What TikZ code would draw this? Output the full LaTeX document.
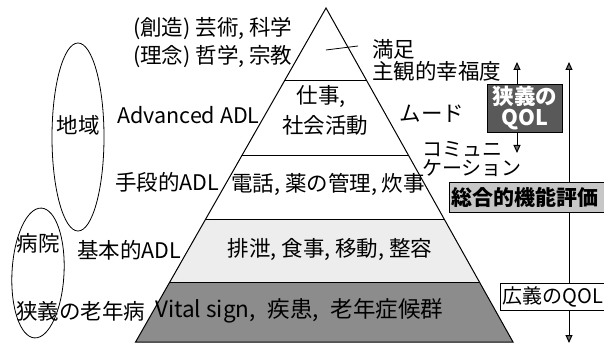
\documentclass[tikz,border=0pt]{standalone}
\usepackage{fontspec}
\setmainfont{Noto Sans CJK JP}
\usetikzlibrary{arrows.meta,shapes.geometric}
\begin{document}
\begin{tikzpicture}[x=1pt,y=-1pt,
  txt/.style={inner sep=0pt,font=\fontsize{21.5}{23}\selectfont},
  smalltxt/.style={inner sep=0pt,font=\fontsize{20}{22}\selectfont},
  edge/.style={line width=1pt},
  arr/.style={line width=1pt,-{Triangle[length=8pt,width=7pt,fill=black!55]}},
  arr2/.style={line width=1pt,{Triangle[length=8pt,width=7pt,fill=black!55]}-{Triangle[length=8pt,width=7pt,fill=black!55]}},
  oval/.style={draw,ellipse,line width=0.8pt,inner sep=0pt}]
\useasboundingbox (0,0) rectangle (604,344);
% pyramid corners
\coordinate (apex) at (326,8);
\coordinate (L1) at (284.4,81);  \coordinate (R1) at (366.9,81);
\coordinate (L2) at (241.6,156); \coordinate (R2) at (408.9,156);
\coordinate (L3) at (205.2,220); \coordinate (R3) at (444.7,220);
\coordinate (L4) at (169.8,282); \coordinate (R4) at (479.4,282);
\coordinate (L5) at (135.6,342); \coordinate (R5) at (513.0,342);
% layer fills
\fill[black!7] (L3) -- (R3) -- (R4) -- (L4) -- cycle;
\fill[black!45] (L4) -- (R4) -- (R5) -- (L5) -- cycle;
% outline
\draw[edge] (L5) -- (apex) -- (R5) -- cycle;
\draw[edge] (L1) -- (R1);
\draw[edge] (L2) -- (R2);
\draw[edge] (L3) -- (R3);
\draw[edge] (L4) -- (R4);
% leader line
\coordinate (ld1) at (326,50);
\coordinate (ld2) at (358,46);
\draw[line width=0.8pt] (ld1) -- (ld2);
% left texts
\node[txt,anchor=west] (sozo) at (133,29) {(創造) 芸術, 科学};
\node[txt,anchor=west] (rinen) at (133,57) {(理念) 哲学, 宗教};
\node[txt,anchor=west] (advadl) at (117,115) {Advanced ADL};
\node[txt,anchor=west] (shudan) at (115,182) {手段的ADL};
\node[txt,anchor=west] (kihon) at (77,250) {基本的ADL};
\node[txt,anchor=west] (kyogi) at (16,311) {狭義の老年病};
% ovals
\node[oval,minimum width=52,minimum height=188] (chiiki) at (78,137) {};
\node[txt] (chiikit) at (78,125) {地域};
\node[oval,minimum width=52,minimum height=130,rotate=-3] (byoin) at (38,273) {};
\node[txt] (byoint) at (38,243) {病院};
% pyramid texts
\node[txt,anchor=west] (manzoku) at (372,49) {満足};
\node[txt,anchor=west] (shukan) at (372,71) {主観的幸福度};
\node[txt] (shigoto) at (321,97) {仕事,};
\node[txt] (shakai) at (325,125) {社会活動};
\node[txt] (mood) at (432,114) {ムード};
\node[smalltxt,anchor=west] (komyu1) at (422,149) {コミュニ};
\node[smalltxt,anchor=west] (komyu2) at (422,168) {ケーション};
\node[txt] (denwa) at (328,184) {電話, 薬の管理, 炊事};
\node[txt] (haisetsu) at (330,250) {排泄, 食事, 移動, 整容};
\node[txt,anchor=west,font=\fontsize{22.5}{24}\selectfont] (vital) at (155,311) {Vital sign,\hspace{12pt}疾患,\hspace{12pt}老年症候群};
% right side arrows
\coordinate (ltop) at (569,62);
\coordinate (lbot) at (569,343);
\draw[arr2] (ltop) -- (lbot);
\node[draw,line width=0.9pt,fill=black!65,text=white,anchor=north west,minimum width=75,minimum height=48,inner sep=0pt,align=center,font=\bfseries\fontsize{21.5}{21}\selectfont] (narrowqol) at (487,84) {狭義の\\QOL};
\coordinate (qtop) at (517,62);
\coordinate (qbot) at (517,153);
\draw[arr] (qtop |- narrowqol.north) -- (qtop);
\draw[arr] (qbot |- narrowqol.south) -- (qbot);
\node[draw,line width=0.9pt,fill=black!22,anchor=north west,minimum height=30,text width=156,inner xsep=2pt,inner ysep=0pt,align=left,font=\bfseries\fontsize{21}{23}\selectfont] (sogo) at (449,182) {総合的機能評価};
\node[draw,line width=0.9pt,fill=white,anchor=north west,minimum height=27,text width=110,inner xsep=2pt,inner ysep=0pt,align=left,font=\fontsize{20}{22}\selectfont] (kogi) at (500,283) {広義のQOL};
\end{tikzpicture}
\end{document}
